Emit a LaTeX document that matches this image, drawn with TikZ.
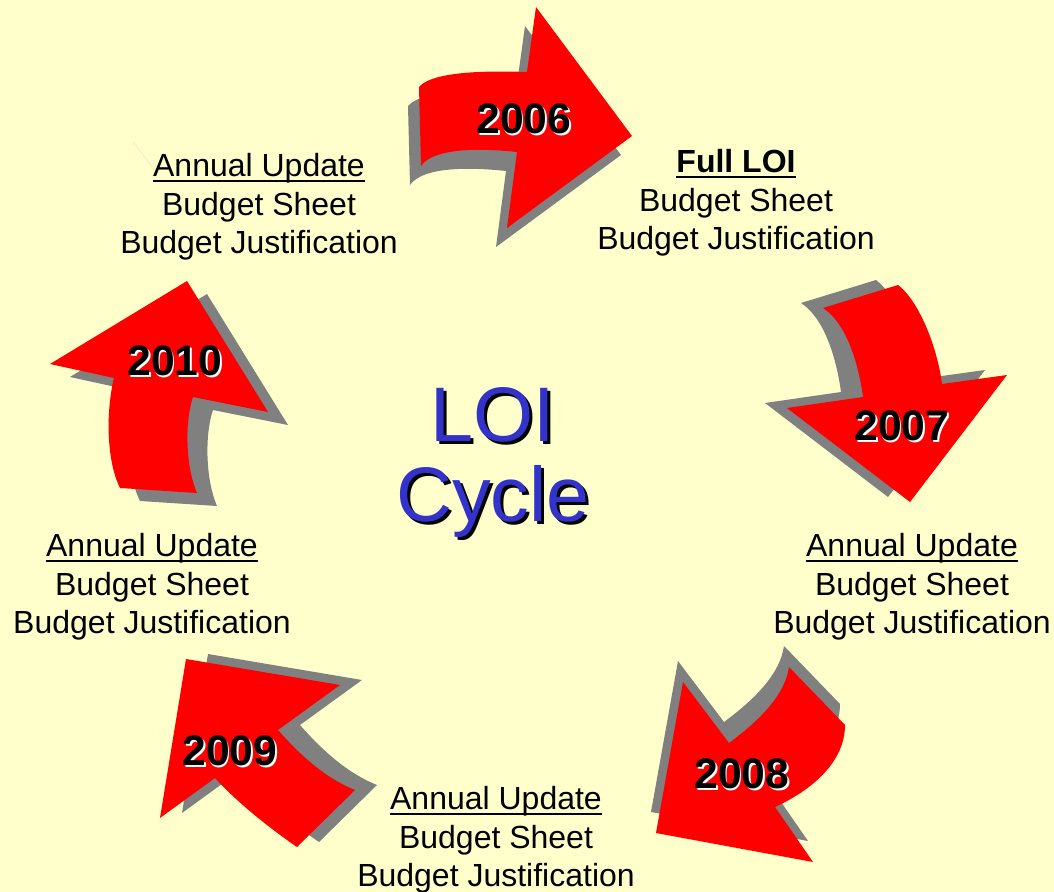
\documentclass[tikz,border=0pt]{standalone}
\usepackage{fontspec}
\setmainfont{Liberation Sans}
\definecolor{paper}{HTML}{FFFFCC}
\definecolor{arrowgray}{HTML}{808080}
\definecolor{arrowred}{HTML}{FF0000}
\definecolor{loiblue}{HTML}{3333CC}
\newcommand{\ulbox}[2][1.6pt]{\sbox0{#2}\rlap{\rule[-4.2pt]{\wd0}{#1}}\usebox0}
\tikzset{
  infotext/.style={align=center, inner sep=0pt, font=\fontsize{24}{28.9}\selectfont},
  yeartext/.style={inner sep=0pt, font=\fontsize{32}{36}\selectfont\bfseries},
  titletext/.style={align=center, inner sep=0pt, font=\fontsize{58}{60}\selectfont},
}
\begin{document}
\begin{tikzpicture}[x=0.75pt, y=-0.75pt]
    % page
    \useasboundingbox (0,0) rectangle (1054,892);
    \fill[paper] (0,0) rectangle (1054,892);
    \draw[orange!25, line width=0.5pt] (133,141) -- (154,170);

    % 2006 arrow (shadow first)
    \foreach \col/\dx/\dy in {arrowgray/-11/19, arrowred/0/0}
        \fill[fill=\col, shift={(\dx,\dy)}] (419,87) .. controls (430,74) and (470,70) .. (527,72)
            -- (536,7) -- (632,136) -- (507,228) -- (517,152)
            .. controls (470,147) and (432,150) .. (421,166) -- cycle;

    % 2007 arrow
    \foreach \col/\dx/\dy in {arrowgray/-22/-5, arrowred/0/0}
        \fill[fill=\col, shift={(\dx,\dy)}] (823,308) -- (898,285)
            .. controls (918,300) and (937,345) .. (942,384)
            -- (1007,375) -- (910,502) -- (787,408) -- (863,397)
            .. controls (858,360) and (845,322) .. (823,308) -- cycle;

    % 2008 arrow
    \foreach \col/\dx/\dy in {arrowgray/-5/-21, arrowred/0/0}
        \fill[fill=\col, shift={(\dx,\dy)}] (683,682) -- (729,743)
            .. controls (760,720) and (785,695) .. (789,667)
            -- (845,725) .. controls (845,762) and (812,790) .. (775,807)
            -- (813,862) -- (656,833) -- cycle;

    % 2009 arrow
    \foreach \col/\dx/\dy in {arrowgray/22/-5, arrowred/0/0}
        \fill[fill=\col, shift={(\dx,\dy)}] (160,818) -- (186,659) -- (340,685) -- (278,730)
            .. controls (300,755) and (325,778) .. (355,790)
            -- (297,847) .. controls (265,825) and (235,800) .. (215,778) -- cycle;

    % 2010 arrow
    \foreach \col/\dx/\dy in {arrowgray/20/13, arrowred/0/0}
        \fill[fill=\col, shift={(\dx,\dy)}] (187,281) -- (50,364) -- (114,378)
            .. controls (106,410) and (106,460) .. (120,488)
            -- (197,493) .. controls (185,465) and (185,420) .. (193,397)
            -- (268,412) -- cycle;

    % years
    \node[yeartext, white] (y06s) at (525.5,120.5) {2006};
    \node[yeartext] (y06) at (524,119) {2006};
    \node[yeartext, white] (y07s) at (903.5,427.5) {2007};
    \node[yeartext] (y07) at (902,426) {2007};
    \node[yeartext, white] (y08s) at (743.5,775.5) {2008};
    \node[yeartext] (y08) at (742,774) {2008};
    \node[yeartext, white] (y09s) at (231.5,752.5) {2009};
    \node[yeartext] (y09) at (230,751) {2009};
    \node[yeartext, white] (y10s) at (176.5,362.5) {2010};
    \node[yeartext] (y10) at (175,361) {2010};

    % what is due each year
    \node[infotext] (info06) at (736,203) {\ulbox[2pt]{\textbf{Full LOI}}\\Budget Sheet\\Budget Justification};
    \node[infotext] (info07) at (912,587) {\ulbox{Annual Update}\\Budget Sheet\\Budget Justification};
    \node[infotext] (info08) at (496,840) {\ulbox{Annual Update}\\Budget Sheet\\Budget Justification};
    \node[infotext] (info09) at (152,587) {\ulbox{Annual Update}\\Budget Sheet\\Budget Justification};
    \node[infotext] (info10) at (259,207) {\ulbox{Annual Update}\\Budget Sheet\\Budget Justification};

    % centre
    \node[titletext] (titles) at (496,466) {LOI\\Cycle};
    \node[titletext, loiblue] (title) at (493,463) {LOI\\Cycle};
\end{tikzpicture}
\end{document}
